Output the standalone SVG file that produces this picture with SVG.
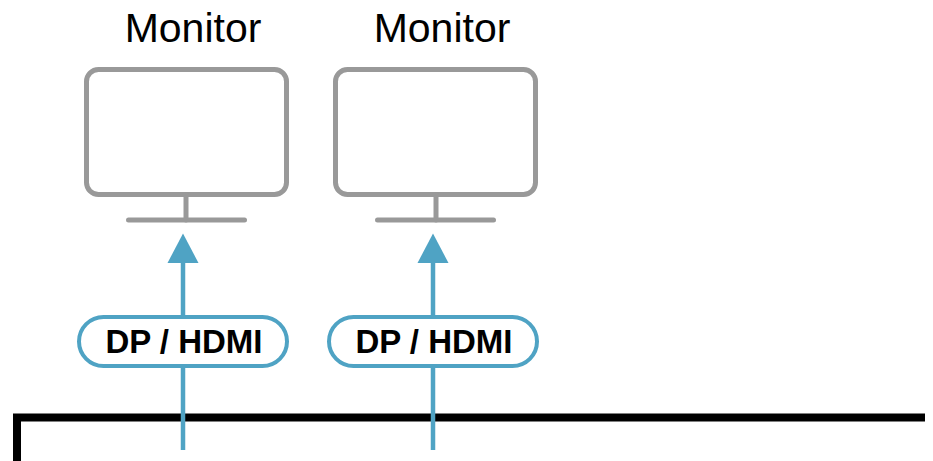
<svg xmlns="http://www.w3.org/2000/svg" width="933" height="461" viewBox="0 0 933 461">
<style>
.title{font-family:"Liberation Sans",Arial,sans-serif;font-size:41px;fill:#000;text-anchor:middle}
.scr{fill:none;stroke:#999999;stroke-width:5;stroke-linecap:round}
.link{stroke:#4fa3c4;stroke-width:4.5;fill:none}
.pill{fill:#fff;stroke:#4fa3c4;stroke-width:4}
.lbl{font-family:"Liberation Sans",Arial,sans-serif;font-size:33px;font-weight:bold;fill:#000;text-anchor:middle}
.box{fill:none;stroke:#000;stroke-width:8}
</style>
<defs>
<marker id="ah" markerUnits="userSpaceOnUse" markerWidth="30" markerHeight="32" refX="0.5" refY="16" orient="auto" viewBox="0 0 30 32">
<path d="M0,0.5 L29.5,16 L0,31.5 Z" fill="#4fa3c4"/>
</marker>
</defs>
<g id="host">
<path class="box" d="M17,461 L17,417.5 L925,417.5"/>
</g>
<g id="monitor1">
<text class="title" x="193" y="42">Monitor</text>
<rect class="scr" x="86.5" y="69.5" width="200" height="125" rx="12"/>
<line class="scr" x1="186" y1="194.5" x2="186" y2="220"/>
<line class="scr" x1="128.5" y1="220" x2="244.5" y2="220"/>
</g>
<g id="monitor2">
<text class="title" x="442" y="42">Monitor</text>
<rect class="scr" x="335.5" y="69.5" width="200" height="125" rx="12"/>
<line class="scr" x1="436" y1="194.5" x2="436" y2="220"/>
<line class="scr" x1="377.5" y1="220" x2="493.5" y2="220"/>
</g>
<g id="connectors">
<line class="link" x1="183" y1="450" x2="183" y2="262.5" marker-end="url(#ah)"/>
<line class="link" x1="433" y1="450" x2="433" y2="262.5" marker-end="url(#ah)"/>
</g>
<g id="label1">
<rect class="pill" x="79" y="317" width="208" height="49" rx="24.5"/>
<text class="lbl" x="184" y="353">DP / HDMI</text>
</g>
<g id="label2">
<rect class="pill" x="329" y="317" width="208" height="49" rx="24.5"/>
<text class="lbl" x="434" y="353">DP / HDMI</text>
</g>
</svg>
